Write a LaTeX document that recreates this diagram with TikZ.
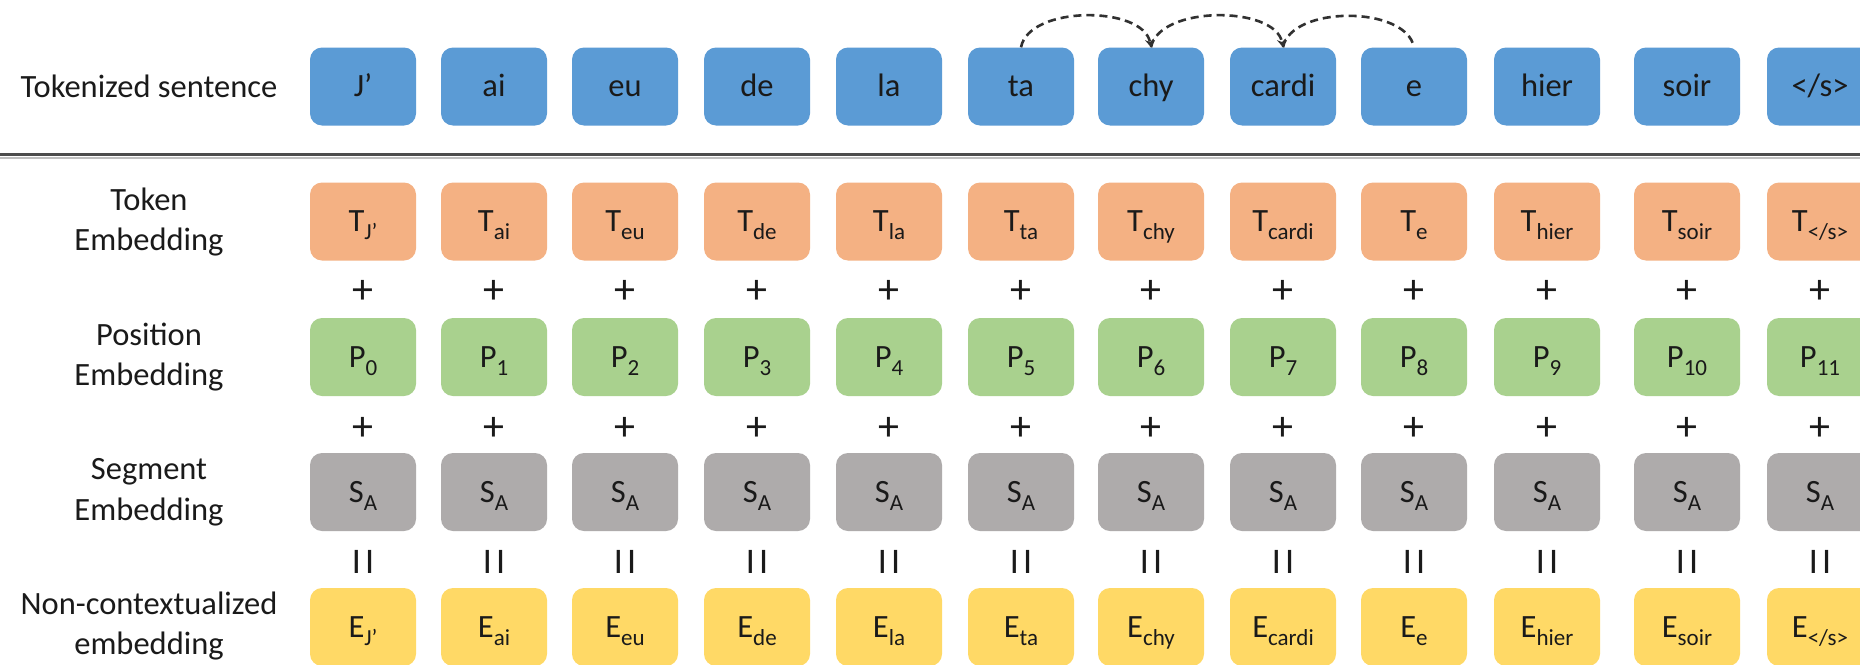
\documentclass[tikz,border=0pt]{standalone}
\usepackage{fontspec}
\setmainfont{Carlito}
\usetikzlibrary{arrows.meta}
\definecolor{cblue}{HTML}{5B9BD5}
\definecolor{corange}{HTML}{F4B183}
\definecolor{cgreen}{HTML}{A9D18E}
\definecolor{cgrey}{HTML}{AEABAB}
\definecolor{cyellow}{HTML}{FFD966}
\definecolor{ctext}{HTML}{1A1A1A}
\newcommand\tsub[1]{\raisebox{-8pt}{\fontsize{23}{23}\selectfont #1}}
\begin{document}
\begin{tikzpicture}[x=1pt,y=-1pt,
  cell/.style={rounded corners=12pt, minimum width=106pt, minimum height=78pt,
    inner sep=0pt, text height=20pt, text depth=0pt, text=ctext,
    font=\fontsize{32.5}{38}\selectfont},
  lbl/.style={align=center, text=ctext, font=\fontsize{32.5}{40.5}\selectfont, inner sep=0pt},
  op/.style={text=ctext, font=\fontsize{42}{44}\selectfont, inner sep=0pt},
  eqs/.style={text=ctext, font=\fontsize{36}{40}\selectfont, inner sep=0pt},
  arcline/.style={draw=ctext!90, line width=2.6pt, dash pattern=on 8pt off 5pt}]
\useasboundingbox (0,0) rectangle (1860,664);
\fill[white] (0,0) rectangle (1860,664);
\clip (0,0) rectangle (1860,664);

% separator
\draw[line width=3pt, black!70] (0,154.5) -- (1860,154.5);
\draw[line width=2pt, black!25] (0,157.5) -- (1860,157.5);

% row labels
\node[lbl] (lab0) at (149,86) {Tokenized sentence};
\node[lbl] (lab1) at (149,222) {Token\\Embedding};
\node[lbl] (lab2) at (149,357) {Position\\Embedding};
\node[lbl] (lab3) at (149,492) {Segment\\Embedding};
\node[lbl] (lab4) at (149,626) {Non-contextualized\\embedding};

\foreach \x/\tk [count=\i] in {363/J’,494/ai,625/eu,757/de,889/la,1021/ta,1151/chy,1283/cardi,1414/e,1547/hier,1687/soir,1820/{</s>}} {
  \node[cell, fill=cblue] (w\i) at (\x,86.5) {\tk};
  \node[cell, fill=corange] (t\i) at (\x,221.5) {T\tsub{\tk}};
  \node[op] (pa\i) at (\x,292) {+};
  \node[op] (pb\i) at (\x,429) {+};
  \node[cell, fill=cgreen] (p\i) at (\x,357) {P\tsub{\the\numexpr\i-1\relax}};
  \node[cell, fill=cgrey] (s\i) at (\x,492) {S\tsub{A}};
  \node[eqs] (eq\i) at (\x,562) {I\kern4pt I};
  \node[cell, fill=cyellow] (e\i) at (\x,627) {E\tsub{\tk}};
}

% dashed arcs
\draw[arcline, -{Stealth[length=8pt,width=9pt]}] (w6.north) .. controls +(8,-42) and +(-8,-42) .. (w7.north);
\draw[arcline, -{Stealth[length=8pt,width=9pt]}] (w7.north) .. controls +(8,-42) and +(-8,-42) .. (w8.north);
\draw[arcline] (w8.north) .. controls +(8,-42) and +(-8,-42) .. (w9.north);
\end{tikzpicture}
\end{document}
